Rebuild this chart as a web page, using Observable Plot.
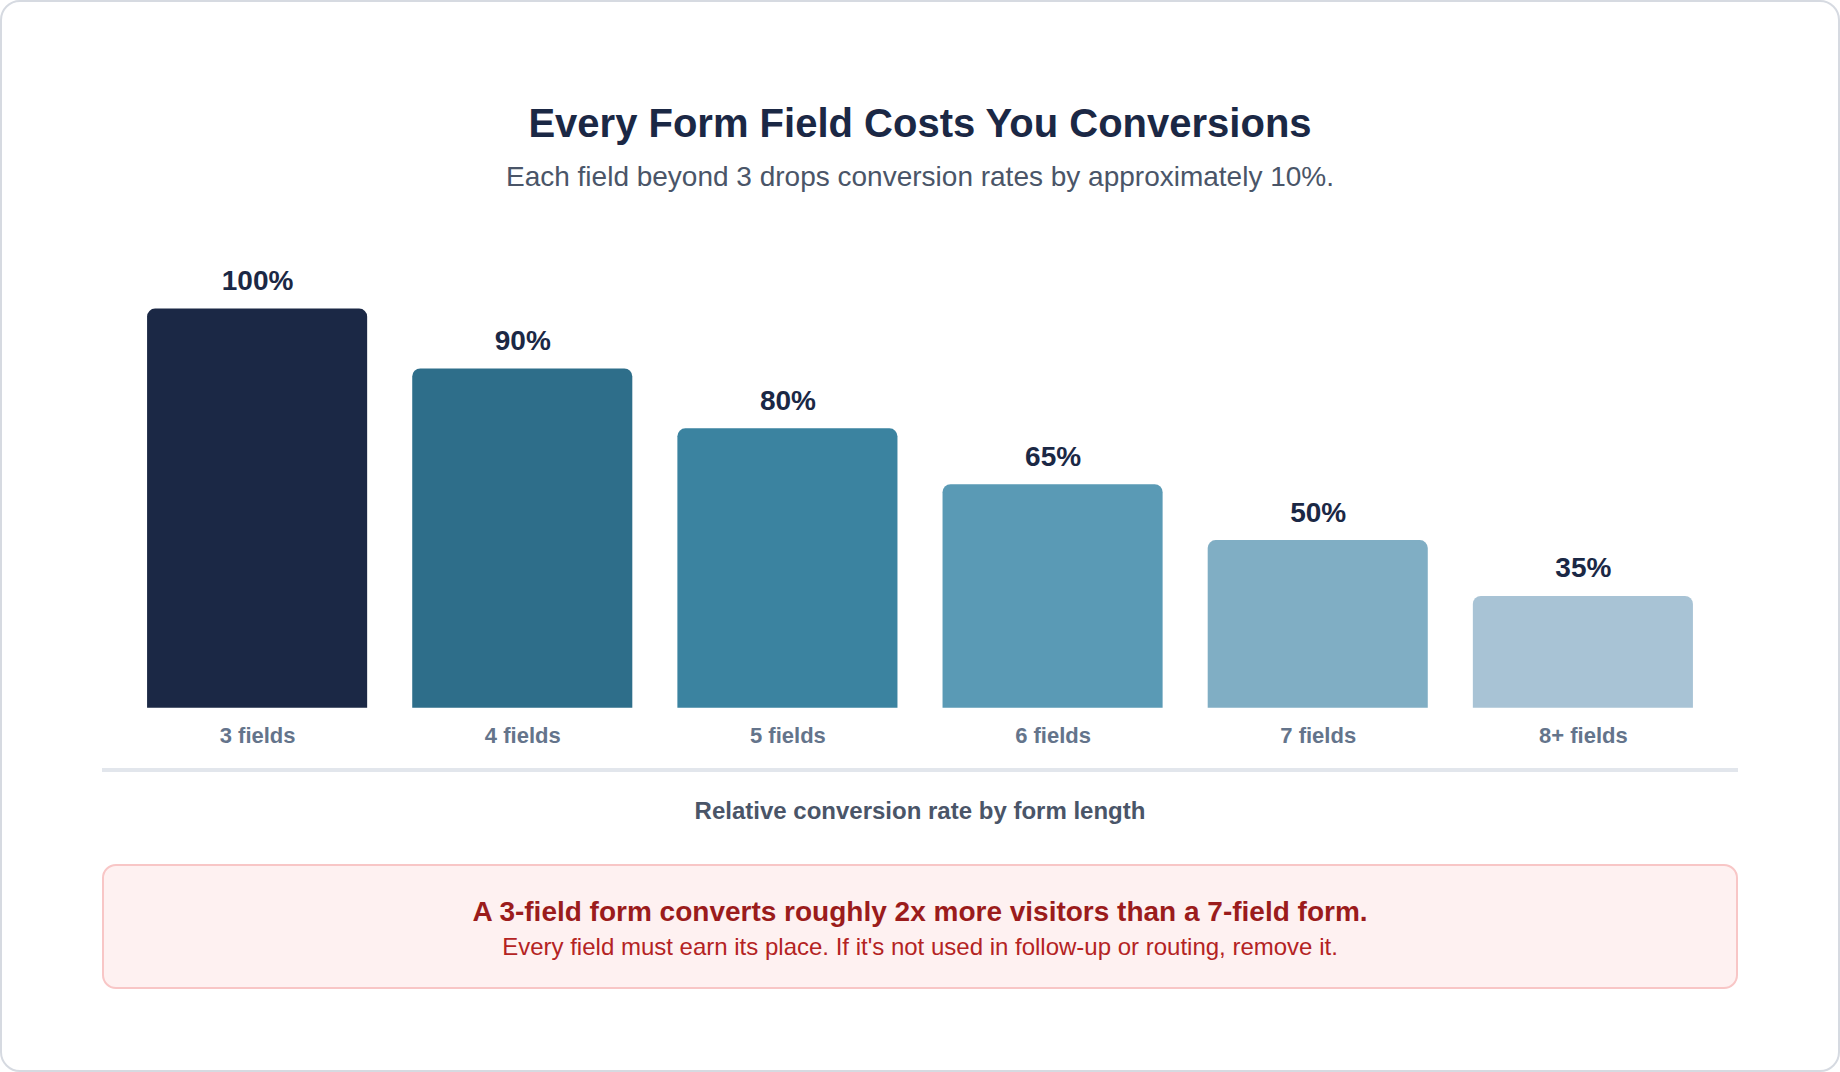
<!DOCTYPE html>
<html><head><meta charset="utf-8">
<script src="https://cdn.jsdelivr.net/npm/d3@7"></script>
<script src="https://cdn.jsdelivr.net/npm/@observablehq/plot@0.6"></script>
<style>
html,body{margin:0;padding:0;background:#fff;width:1840px;height:1072px;overflow:hidden;font-family:"Liberation Sans",Arial,Helvetica,sans-serif;}
#card{position:absolute;left:0;top:0;width:1840px;height:1072px;box-sizing:border-box;border:2px solid #d6dae1;border-radius:20px;background:#fff;}
.t{position:absolute;left:0;width:1840px;text-align:center;white-space:nowrap;}
#title{top:99px;font-size:40px;line-height:48px;font-weight:700;color:#1b2845;}
#subtitle{top:158px;font-size:28px;line-height:38px;color:#4a5568;}
#chart{position:absolute;left:0;top:230px;}
#rule{position:absolute;left:102px;width:1636px;top:768px;height:4px;background:#e2e6ec;}
#caption{top:796px;font-size:24px;line-height:30px;font-weight:700;color:#4a5568;}
#callout{position:absolute;left:102px;width:1636px;top:864px;height:125px;box-sizing:border-box;border:2px solid #f8c6c6;border-radius:14px;background:#fef1f1;}
#c1{top:894px;font-size:28px;line-height:36px;font-weight:700;color:#9b1c1c;}
#c2{top:932px;font-size:24px;line-height:30px;color:#b42323;}
</style>
</head>
<body>
<div id="card"></div>
<div class="t" id="title">Every Form Field Costs You Conversions</div>
<div class="t" id="subtitle">Each field beyond 3 drops conversion rates by approximately 10%.</div>
<div id="chart"></div>
<div id="rule"></div>
<div class="t" id="caption">Relative conversion rate by form length</div>
<div id="callout"></div>
<div class="t" id="c1">A 3-field form converts roughly 2x more visitors than a 7-field form.</div>
<div class="t" id="c2">Every field must earn its place. If it's not used in follow-up or routing, remove it.</div>
<script>
// Data
const categories = ["3 fields", "4 fields", "5 fields", "6 fields", "7 fields", "8+ fields"];
const conversionRates = [100, 90, 80, 65, 50, 35];   // value labels (%)
const barHeights = [100, 85, 70, 56, 42, 28];        // drawn bar heights (% of tallest), as measured
// Styles
const palette = ["#1b2845", "#2e6e8a", "#3b83a0", "#5a9ab5", "#80aec4", "#a8c3d5"];

const data = categories.map((c, i) => ({category: c, rate: conversionRates[i], h: barHeights[i]}));

const chart = Plot.plot({
  width: 1840,
  height: 530,
  marginLeft: 102,
  marginRight: 102,
  marginTop: 78.6,
  marginBottom: 52.3,
  x: {domain: categories, padding: 0.17, round: false, axis: null},
  y: {domain: [0, 100], axis: null},
  color: {domain: categories, range: palette},
  style: {fontFamily: "'Liberation Sans', Arial, Helvetica, sans-serif", background: "transparent", overflow: "visible"},
  marks: [
    Plot.barY(data, {x: "category", y: "h", fill: "category", ry1: 8, insetLeft: 0, insetRight: 0}),
    Plot.text(data, {x: "category", y: "h", text: d => d.rate + "%", dy: -28, lineAnchor: "middle", fontSize: 28, fontWeight: 700, fill: "#1b2845"}),
    Plot.text(data, {x: "category", y: 0, text: "category", dy: 28, lineAnchor: "middle", fontSize: 22, fontWeight: 700, fill: "#64748b"})
  ]
});
document.getElementById("chart").appendChild(chart);
</script>
</body></html>
